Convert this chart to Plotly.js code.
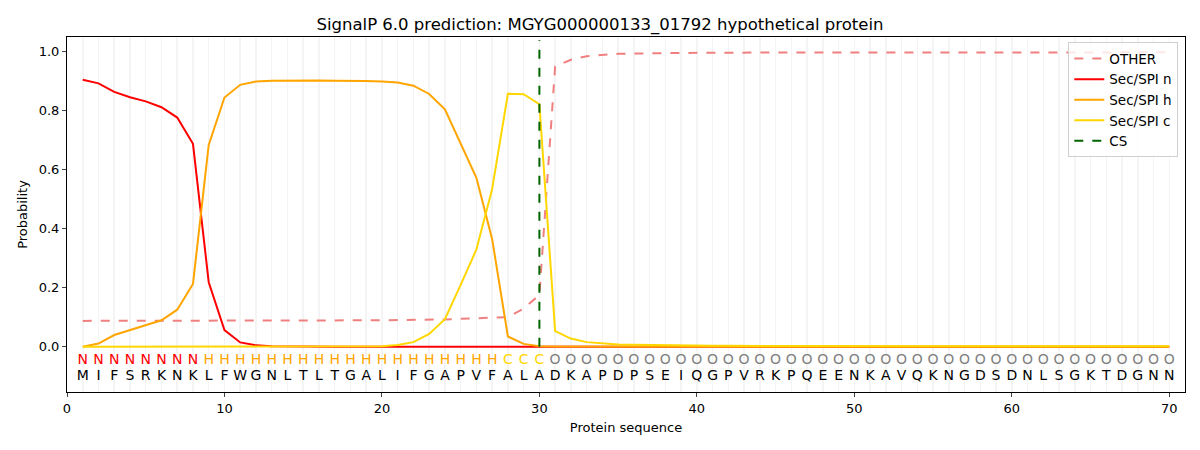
<!DOCTYPE html>
<html>
<head>
<meta charset="utf-8">
<script src="https://cdn.plot.ly/plotly-3.0.1.min.js"></script>
<style>html,body{margin:0;padding:0;background:#fff;}#chart{width:1200px;height:450px;}</style>
</head>
<body>
<div id="chart"></div>
<script>
const sequence = "MIFSRKNKLFWGNLTLTGALIFGAPVFALADKAPDPSEIQGPVRKPQEENKAVQKNGDSDNLSGKTDGNN".split("");
const regionLabels = "NNNNNNNNHHHHHHHHHHHHHHHHHHHCCCOOOOOOOOOOOOOOOOOOOOOOOOOOOOOOOOOOOOOOOO".split("");
const positions = sequence.map((_, i) => i + 1);

const otherProb = [0.088,0.088,0.088,0.088,0.088,0.088,0.088,0.088,0.088,0.088,
  0.088,0.088,0.088,0.089,0.089,0.089,0.089,0.089,0.090,0.090,
  0.091,0.091,0.092,0.093,0.095,0.097,0.099,0.101,0.130,0.176,
  0.950,0.973,0.985,0.990,0.993,0.994,0.995,0.996,0.996,0.997,
  0.997,0.997,0.997,0.998,0.998,0.998,0.998,0.998,0.998,0.998,
  0.998,0.998,0.998,0.998,0.998,0.998,0.998,0.998,0.998,0.998,
  0.998,0.998,0.998,0.998,0.998,0.998,0.998,0.998,0.998,0.998];
const secN = [0.905,0.893,0.864,0.846,0.832,0.812,0.777,0.688,0.219,0.057,
  0.015,0.005,0.002,0.001,0.001,0,0,0,0,0,
  0,0,0,0,0,0,0,0,0,0,
  0,0,0,0,0,0,0,0,0,0,
  0,0,0,0,0,0,0,0,0,0,
  0,0,0,0,0,0,0,0,0,0,
  0,0,0,0,0,0,0,0,0,0];
const secH = [0,0.011,0.040,0.057,0.072,0.090,0.126,0.213,0.684,0.845,
  0.888,0.899,0.902,0.903,0.903,0.903,0.902,0.902,0.901,0.899,
  0.896,0.885,0.857,0.805,0.690,0.573,0.365,0.035,0.010,0.002,
  0.001,0.001,0.001,0.001,0.001,0.001,0.001,0.001,0.001,0.001,
  0,0,0,0,0,0,0,0,0,0,
  0,0,0,0,0,0,0,0,0,0,
  0,0,0,0,0,0,0,0,0,0];
const secC = [0,0,0,0,0,0,0,0,0,0,
  0,0,0,0,0,0,0,0,0.001,0.002,
  0.006,0.016,0.044,0.094,0.210,0.330,0.535,0.858,0.856,0.822,
  0.053,0.028,0.016,0.011,0.008,0.007,0.006,0.005,0.005,0.004,
  0.004,0.004,0.003,0.003,0.003,0.003,0.003,0.003,0.003,0.003,
  0.003,0.003,0.003,0.002,0.002,0.002,0.002,0.002,0.002,0.002,
  0.002,0.002,0.002,0.002,0.002,0.002,0.002,0.002,0.002,0.002];
const csPosition = 30;
const csSpan = [0, 1.04];
const labelRowY = -0.047;
const seqRowY = -0.10;
const regionColors = {N: "#ff0000", H: "#ffa500", C: "#ffd700", O: "#808080"};
const xTicks = [0,10,20,30,40,50,60,70];
const yTicks = [0,0.2,0.4,0.6,0.8,1.0];

const font = "DejaVu Sans, sans-serif";

const traces = [
  {x: positions, y: otherProb, name: "OTHER", mode: "lines",
   line: {color: "#f08080", width: 2, dash: "dash"}},
  {x: positions, y: secN, name: "Sec/SPI n", mode: "lines",
   line: {color: "#ff0000", width: 2}},
  {x: positions, y: secH, name: "Sec/SPI h", mode: "lines",
   line: {color: "#ffa500", width: 2}},
  {x: positions, y: secC, name: "Sec/SPI c", mode: "lines",
   line: {color: "#ffd700", width: 2}},
  {x: [csPosition, csPosition], y: csSpan, name: "CS", mode: "lines",
   line: {color: "#006400", width: 2, dash: "dash"}},
  {x: positions, y: positions.map(() => labelRowY), text: regionLabels, mode: "text",
   textfont: {family: font, size: 14, color: regionLabels.map(c => regionColors[c])},
   showlegend: false, hoverinfo: "skip"},
  {x: positions, y: positions.map(() => seqRowY), text: sequence, mode: "text",
   textfont: {family: font, size: 14, color: "#000"},
   showlegend: false, hoverinfo: "skip"}
];

const layout = {
  width: 1200, height: 450,
  margin: {l: 67, r: 15, t: 37, b: 58},
  paper_bgcolor: "#fff", plot_bgcolor: "#fff",
  font: {family: font, size: 13, color: "#000"},
  title: {text: "SignalP 6.0 prediction: MGYG000000133_01792 hypothetical protein",
          font: {family: font, size: 16.5, color: "#000"}, x: 0.5, xanchor: "center",
          yref: "container", y: 0.946, yanchor: "middle"},
  xaxis: {range: [0, 71], tickmode: "array", tickvals: xTicks, ticks: "outside", ticklen: 4,
          showline: true, linecolor: "#000", linewidth: 1, mirror: true,
          showgrid: false, zeroline: false,
          minor: {dtick: 1, tick0: 0, showgrid: true, gridcolor: "rgba(0,0,0,0.045)", gridwidth: 1.5, ticks: ""},
          title: {text: "Protein sequence", font: {family: font, size: 13}, standoff: 8},
          tickfont: {family: font, size: 13}},
  yaxis: {range: [-0.153, 1.05], tickmode: "array", tickvals: yTicks, tickformat: ".1f",
          ticks: "outside", ticklen: 4,
          showline: true, linecolor: "#000", linewidth: 1, mirror: true,
          showgrid: false, zeroline: false,
          title: {text: "Probability", font: {family: font, size: 13}, standoff: 8},
          tickfont: {family: font, size: 13}},
  legend: {x: 0.994, y: 0.985, xanchor: "right", yanchor: "top",
           bgcolor: "rgba(255,255,255,0.8)", bordercolor: "#d0d0d0", borderwidth: 1,
           font: {family: font, size: 13.5}, tracegroupgap: 2},
  showlegend: true
};

Plotly.newPlot("chart", traces, layout, {staticPlot: true});
</script>
</body>
</html>
